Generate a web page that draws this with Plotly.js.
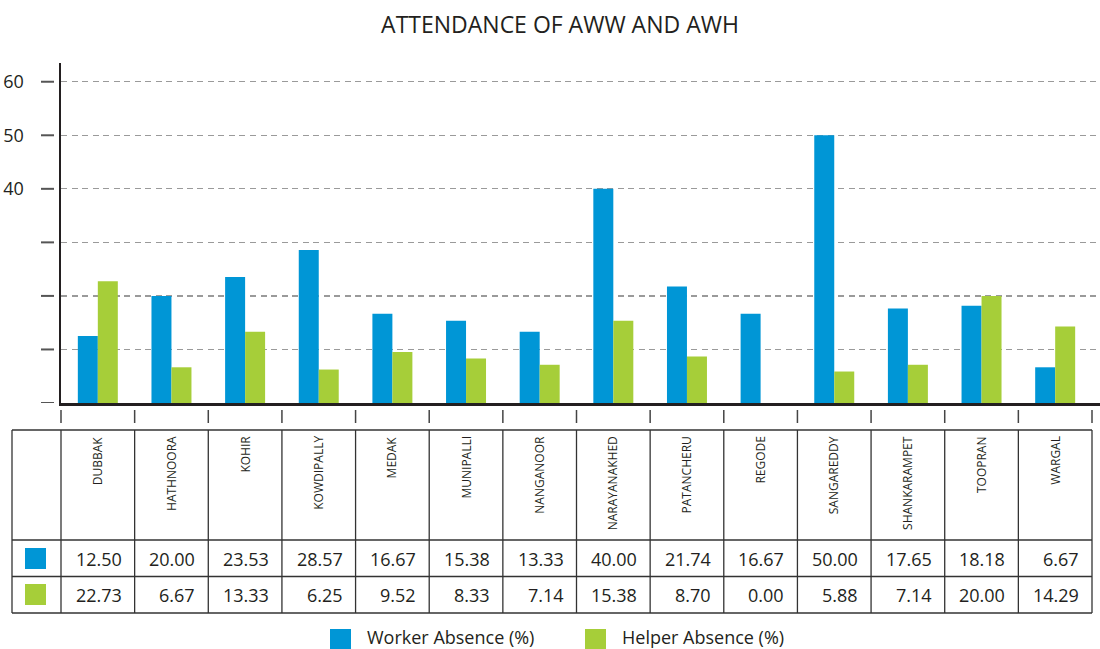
<!DOCTYPE html>
<html><head><meta charset="utf-8">
<script src="https://cdn.plot.ly/plotly-3.0.1.min.js"></script>
<style>html,body{margin:0;padding:0;background:#fff;}#chart{width:1100px;height:649px;}</style>
</head><body><div id="chart"></div>
<script>
const categories = ['DUBBAK','HATHNOORA','KOHIR','KOWDIPALLY','MEDAK','MUNIPALLI','NANGANOOR','NARAYANAKHED','PATANCHERU','REGODE','SANGAREDDY','SHANKARAMPET','TOOPRAN','WARGAL'];
const workerAbsence = [12.50,20.00,23.53,28.57,16.67,15.38,13.33,40.00,21.74,16.67,50.00,17.65,18.18,6.67];
const helperAbsence = [22.73,6.67,13.33,6.25,9.52,8.33,7.14,15.38,8.70,0.00,5.88,7.14,20.00,14.29];
const seriesNames = ['Worker Absence (%)','Helper Absence (%)'];
const seriesColors = ['#0096d6','#a6ce39'];
const yTickVals = [0,10,20,30,40,50,60];
const yTickText = ['','','','','40','50','60'];
const chartTitle = 'ATTENDANCE OF AWW AND AWH';

const FONT = '"Open Sans", "Noto Sans", sans-serif';
const INK = '#231f20';
const W = 1100, H = 649, L = 61, R = 0, T = 63, B = 246;
const plotW = W - L - R, plotH = H - T - B;
const catStep = (1092 - 61) / categories.length;
const xRange = [-0.5, -0.5 + plotW / catStep];
const yRange = [0, 63.5];
const px = x => (x - L) / plotW;            // pixel -> paper x
const py = y => (H - B - y) / plotH;        // pixel -> paper y
const catX = c => (c - xRange[0]) / (xRange[1] - xRange[0]); // category coord -> paper x

const traces = [
  {type:'bar', name:seriesNames[0], x:categories, y:workerAbsence, marker:{color:seriesColors[0]}, hoverinfo:'x+y+name'},
  {type:'bar', name:seriesNames[1], x:categories, y:helperAbsence, marker:{color:seriesColors[1]}, hoverinfo:'x+y+name'}
];

const shapes = [];
const annotations = [];

// y-axis ticks (detached from axis line)
yTickVals.forEach(v => shapes.push({type:'line', xref:'paper', yref:'y', x0:px(41), x1:px(54), y0:v, y1:v, line:{color:'#555', width:2}}));
// x-axis boundary ticks
for (let i = 0; i <= categories.length; i++) {
  shapes.push({type:'line', xref:'paper', yref:'paper', x0:catX(i-0.5), x1:catX(i-0.5), y0:py(410), y1:py(423), line:{color:'#444', width:1.5}});
}
// data table grid
const rowLines = [430, 540, 576.5, 613];
rowLines.forEach(y => shapes.push({type:'line', xref:'paper', yref:'paper', x0:px(12), x1:catX(categories.length-0.5), y0:py(y), y1:py(y), line:{color:'#333', width:1.3}}));
shapes.push({type:'line', xref:'paper', yref:'paper', x0:px(12), x1:px(12), y0:py(430), y1:py(613), line:{color:'#333', width:1.3}});
for (let i = 0; i <= categories.length; i++) {
  shapes.push({type:'line', xref:'paper', yref:'paper', x0:catX(i-0.5), x1:catX(i-0.5), y0:py(430), y1:py(613), line:{color:'#333', width:1.3}});
}
// row colour keys
const rowCenters = [558.5, 594.5];
seriesColors.forEach((c, k) => shapes.push({type:'rect', xref:'paper', yref:'paper', x0:px(25), x1:px(46), y0:py(rowCenters[k]-10.5), y1:py(rowCenters[k]+10.5), fillcolor:c, line:{width:0}}));

// category header labels (rotated)
categories.forEach((c, i) => annotations.push({xref:'paper', yref:'paper', x:catX(i), y:py(434), xanchor:'center', yanchor:'top', text:c, textangle:-90, showarrow:false, font:{family:FONT, size:12, color:INK}}));
// values
[workerAbsence, helperAbsence].forEach((arr, k) => arr.forEach((v, i) => annotations.push({
  xref:'paper', yref:'paper', x:catX(i + 0.5 - 11/catStep), y:py(rowCenters[k]), xanchor:'right', yanchor:'middle',
  text:v.toFixed(2), showarrow:false, font:{family:FONT, size:18, color:INK}
})));

// custom legend
const legX = [330, 585];
const legTextX = [366, 621];
seriesNames.forEach((n, k) => {
  shapes.push({type:'rect', xref:'paper', yref:'paper', x0:px(legX[k]), x1:px(legX[k]+21), y0:py(629), y1:py(650), fillcolor:seriesColors[k], line:{width:0}});
  annotations.push({xref:'paper', yref:'paper', x:px(legTextX[k]), y:py(636.5), xanchor:'left', yanchor:'middle', borderpad:0, text:n, showarrow:false, font:{family:FONT, size:18, color:INK}});
});

const layout = {
  width: W, height: H,
  margin: {l:L, r:R, t:T, b:B, pad:0},
  paper_bgcolor:'#fff', plot_bgcolor:'#fff',
  showlegend:false,
  barmode:'group', bargap:0.457, bargroupgap:0,
  title: {text:chartTitle, xref:'container', yref:'container', x:560/W, xanchor:'center', y:1-25/H, yanchor:'middle', font:{family:FONT, size:23, color:INK}},
  font: {family:FONT, color:INK},
  xaxis: {range:xRange, showticklabels:false, ticks:'', showgrid:false, zeroline:false, showline:true, linecolor:INK, linewidth:2.5, fixedrange:true},
  yaxis: {range:yRange, tickvals:yTickVals, ticktext:yTickText, ticks:'', ticklabelstandoff:31, tickfont:{family:FONT, size:18, color:INK},
          showgrid:true, gridcolor:'#9a9a9a', gridwidth:1.3, griddash:'6px,4.5px', zeroline:false, showline:true, linecolor:INK, linewidth:2.5, fixedrange:true},
  shapes: shapes,
  annotations: annotations
};

Plotly.newPlot('chart', traces, layout, {displayModeBar:false, staticPlot:true});
</script>
</body></html>
